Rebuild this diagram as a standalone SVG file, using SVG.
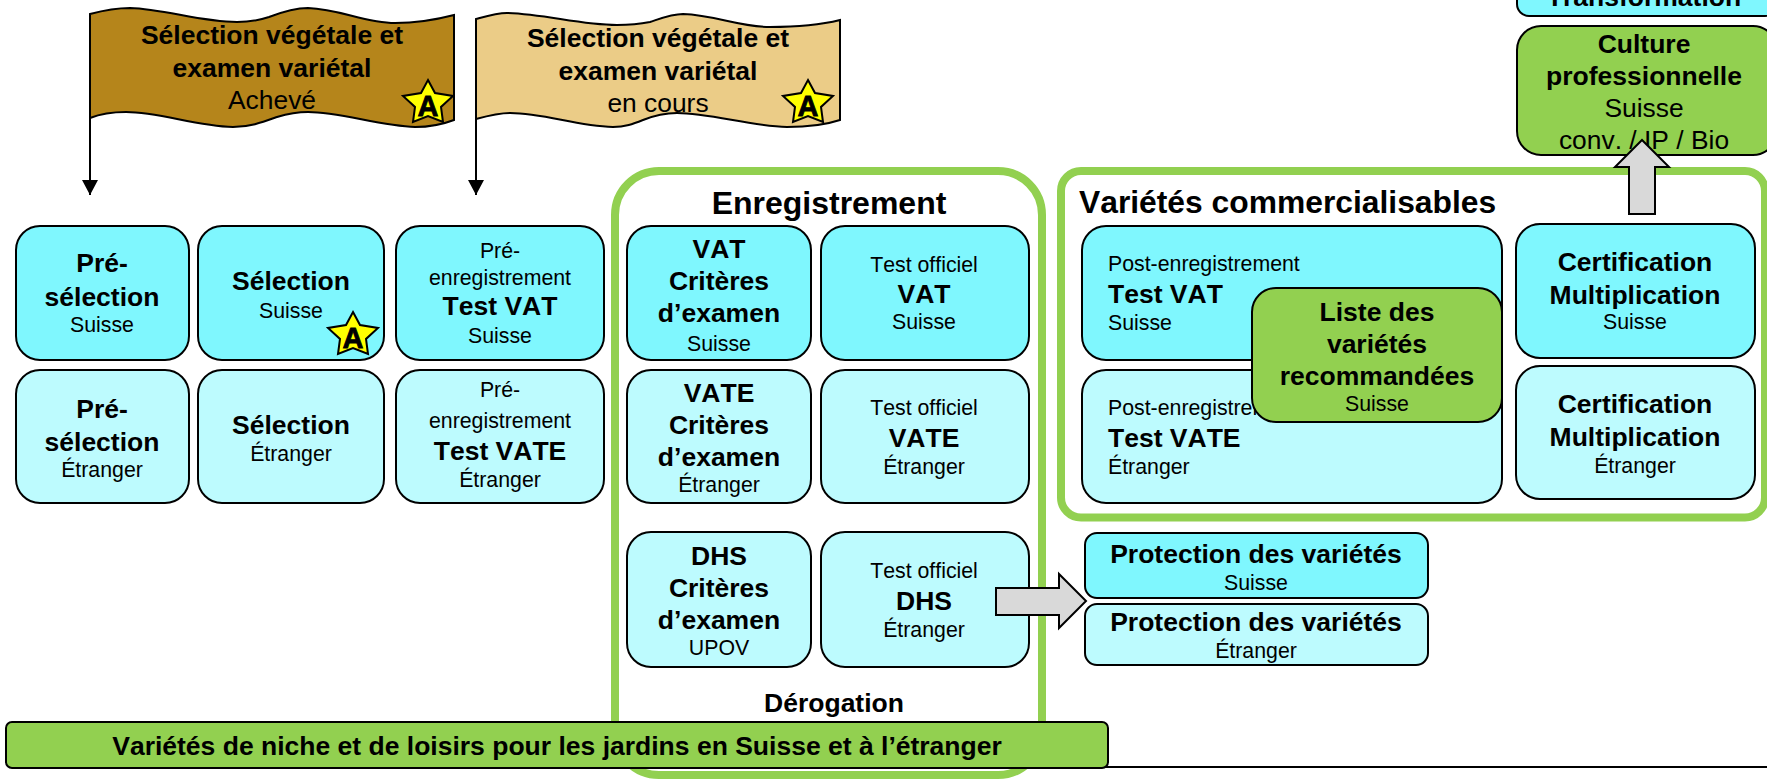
<svg xmlns="http://www.w3.org/2000/svg" width="1767" height="780" viewBox="0 0 1767 780">
<style>
text{font-family:"Liberation Sans",Arial,sans-serif;fill:#000;text-anchor:middle;font-kerning:none}
.b{font-weight:700;font-size:26.5px}
.s{font-size:21.3px}
.m{font-size:26.4px}
.l{text-anchor:start}
.c1{fill:#7ff7fe;stroke:#000;stroke-width:2}
.c2{fill:#bdfbfe;stroke:#000;stroke-width:2}
.g{fill:#92d050;stroke:#000;stroke-width:2}
.frame{fill:#fff;stroke:#92d050;stroke-width:8}
.ar{fill:#d9d9d9;stroke:#000;stroke-width:2}
.star{fill:#ff0;stroke:#000;stroke-width:2;stroke-linejoin:miter}
.sa{font-weight:700;font-size:29px;stroke:#000;stroke-width:.8}
</style>
<defs>
<polygon id="star" class="star" points="0,-22 7,-9 25,-6 13,5 15,20 0,14 -15,20 -13,5 -25,-6 -7,-9"/>
<marker id="tri" markerUnits="userSpaceOnUse" markerWidth="16" markerHeight="16" refX="15" refY="8" orient="auto" viewBox="0 0 16 16"><path d="M0,0L15,8L0,16Z" fill="#000"/></marker>
</defs>
<g id="frames">
<rect id="frame-enregistrement" class="frame" x="615" y="171" width="427" height="604" rx="44"/>
<rect id="frame-commercialisables" class="frame" x="1061" y="171" width="704" height="346.500" rx="20"/>
</g>
<g id="connectors">
<line x1="90" y1="118" x2="90" y2="195" stroke="#000" stroke-width="2" marker-end="url(#tri)"/>
<line x1="476" y1="119" x2="476" y2="195" stroke="#000" stroke-width="2" marker-end="url(#tri)"/>
<line x1="197" y1="767" x2="1767" y2="767" stroke="#000" stroke-width="2"/>
</g>
<g id="flag1">
<path d="M90,14C105,10 118,8 130,8C165,9 200,22 237,22C250,22 260,20 269,17C282,12 295,8 308,8C340,9 365,23 395,23C415,23 435,20 454,15V120C441,125 428,127 415,127C380,126 340,112 308,112C295,112 287,114 277,117C263,122 250,127 233,127C195,126 160,112 126,112C112,112 100,114 90,118Z" fill="#b5851b" stroke="#000" stroke-width="2"/>
<text class="b" x="272" y="44">Sélection végétale et</text><text class="b" x="272" y="77">examen variétal</text><text class="m" x="272" y="109">Achevé</text>
<use href="#star" x="428" y="102"/><text class="sa" x="428" y="116">A</text>
</g>
<g id="flag2">
<path d="M476,19C487,16 497,13 507,13C545,14 580,25 617,25C630,25 640,24 650,22C662,18 672,14 683,14C715,15 740,27 770,27C795,27 820,25 840,20V120C825,125 805,127 787,127C750,126 710,113 677,113C663,113 653,116 643,120C633,124 625,127 613,127C575,126 545,113 510,113C498,113 487,116 476,119Z" fill="#ebcc87" stroke="#000" stroke-width="2"/>
<text class="b" x="658" y="47">Sélection végétale et</text><text class="b" x="658" y="80">examen variétal</text><text class="m" x="658" y="112">en cours</text>
<use href="#star" x="808" y="102"/><text class="sa" x="808" y="116">A</text>
</g>
<g id="n-preselection-ch"><rect class="c1" x="16" y="226" width="173" height="134" rx="24"/><text class="b" x="102" y="272">Pré-</text><text class="b" x="102" y="306">sélection</text><text class="s" x="102" y="332">Suisse</text></g>
<g id="n-selection-ch"><rect class="c1" x="198" y="226" width="186" height="134" rx="24"/><text class="b" x="291" y="290">Sélection</text><text class="s" x="291" y="318">Suisse</text><use href="#star" x="353" y="334"/><text class="sa" x="353" y="348">A</text></g>
<g id="n-pre-vat"><rect class="c1" x="396" y="226" width="208" height="134" rx="24"/><text class="s" x="500" y="258">Pré-</text><text class="s" x="500" y="285">enregistrement</text><text class="b" x="500" y="315">Test VAT</text><text class="s" x="500" y="343">Suisse</text></g>
<g id="n-preselection-et"><rect class="c2" x="16" y="370" width="173" height="133" rx="24"/><text class="b" x="102" y="418">Pré-</text><text class="b" x="102" y="451">sélection</text><text class="s" x="102" y="477">Étranger</text></g>
<g id="n-selection-et"><rect class="c2" x="198" y="370" width="186" height="133" rx="24"/><text class="b" x="291" y="434">Sélection</text><text class="s" x="291" y="461">Étranger</text></g>
<g id="n-pre-vate"><rect class="c2" x="396" y="370" width="208" height="133" rx="24"/><text class="s" x="500" y="397">Pré-</text><text class="s" x="500" y="428">enregistrement</text><text class="b" x="500" y="460">Test VATE</text><text class="s" x="500" y="487">Étranger</text></g>
<text class="b" x="829" y="214" style="font-size:32px" id="t-enregistrement">Enregistrement</text>
<g id="n-vat-crit"><rect class="c1" x="627" y="226" width="184" height="134" rx="24"/><text class="b" x="719" y="258">VAT</text><text class="b" x="719" y="290">Critères</text><text class="b" x="719" y="322">d’examen</text><text class="s" x="719" y="351">Suisse</text></g>
<g id="n-vat-test"><rect class="c1" x="821" y="226" width="208" height="134" rx="24"/><text class="s" x="924" y="272">Test officiel</text><text class="b" x="924" y="303">VAT</text><text class="s" x="924" y="329">Suisse</text></g>
<g id="n-vate-crit"><rect class="c2" x="627" y="370" width="184" height="133" rx="24"/><text class="b" x="719" y="402">VATE</text><text class="b" x="719" y="434">Critères</text><text class="b" x="719" y="466">d’examen</text><text class="s" x="719" y="492">Étranger</text></g>
<g id="n-vate-test"><rect class="c2" x="821" y="370" width="208" height="133" rx="24"/><text class="s" x="924" y="415">Test officiel</text><text class="b" x="924" y="447">VATE</text><text class="s" x="924" y="474">Étranger</text></g>
<g id="n-dhs-crit"><rect class="c2" x="627" y="532" width="184" height="135" rx="24"/><text class="b" x="719" y="565">DHS</text><text class="b" x="719" y="597">Critères</text><text class="b" x="719" y="629">d’examen</text><text class="s" x="719" y="655">UPOV</text></g>
<g id="n-dhs-test"><rect class="c2" x="821" y="532" width="208" height="135" rx="24"/><text class="s" x="924" y="578">Test officiel</text><text class="b" x="924" y="610">DHS</text><text class="s" x="924" y="637">Étranger</text></g>
<text id="t-derogation" class="b" x="834" y="712">Dérogation</text>
<text id="t-commercialisables" class="b l" x="1079" y="213" style="font-size:31.800px">Variétés commercialisables</text>
<g id="n-post-vat"><rect class="c1" x="1082" y="226" width="420" height="134" rx="24"/><text class="s l" x="1108" y="271">Post-enregistrement</text><text class="b l" x="1108" y="303">Test VAT</text><text class="s l" x="1108" y="330">Suisse</text></g>
<g id="n-post-vate"><rect class="c2" x="1082" y="370" width="420" height="133" rx="24"/><text class="s l" x="1108" y="415">Post-enregistrement</text><text class="b l" x="1108" y="447">Test VATE</text><text class="s l" x="1108" y="474">Étranger</text></g>
<g id="n-liste"><rect class="g" x="1252" y="288" width="250" height="134" rx="24"/><text class="b" x="1377" y="321">Liste des</text><text class="b" x="1377" y="353">variétés</text><text class="b" x="1377" y="385">recommandées</text><text class="s" x="1377" y="411">Suisse</text></g>
<g id="n-cert-ch"><rect class="c1" x="1516" y="224" width="239" height="134" rx="24"/><text class="b" x="1635" y="271">Certification</text><text class="b" x="1635" y="304">Multiplication</text><text class="s" x="1635" y="329">Suisse</text></g>
<g id="n-cert-et"><rect class="c2" x="1516" y="366" width="239" height="133" rx="24"/><text class="b" x="1635" y="413">Certification</text><text class="b" x="1635" y="446">Multiplication</text><text class="s" x="1635" y="473">Étranger</text></g>
<g id="n-transformation"><rect class="c1" x="1517" y="-40" width="260" height="56" rx="12"/><text class="b" x="1644" y="6">Transformation</text></g>
<g id="n-culture"><rect class="g" x="1517" y="26" width="260" height="129" rx="24"/><text class="b" x="1644" y="53">Culture</text><text class="b" x="1644" y="85">professionnelle</text><text class="m" x="1644" y="117">Suisse</text><text class="m" x="1644" y="149">conv. / IP / Bio</text></g>
<g id="n-prot-ch"><rect class="c1" x="1085" y="533" width="343" height="65" rx="12"/><text class="b" x="1256" y="563">Protection des variétés</text><text class="s" x="1256" y="590">Suisse</text></g>
<g id="n-prot-et"><rect class="c2" x="1085" y="604" width="343" height="61" rx="12"/><text class="b" x="1256" y="631">Protection des variétés</text><text class="s" x="1256" y="658">Étranger</text></g>
<g id="arrows">
<path class="ar" d="M996,588H1059V574L1086,601L1059,628V615H996Z"/>
<path class="ar" d="M1629,214V167H1615L1642,140L1669,167H1655V214Z"/>
</g>
<g id="n-jardins"><rect class="g" x="6" y="722" width="1102" height="46" rx="6"/><text class="b" x="557" y="755">Variétés de niche et de loisirs pour les jardins en Suisse et à l’étranger</text></g>
</svg>
